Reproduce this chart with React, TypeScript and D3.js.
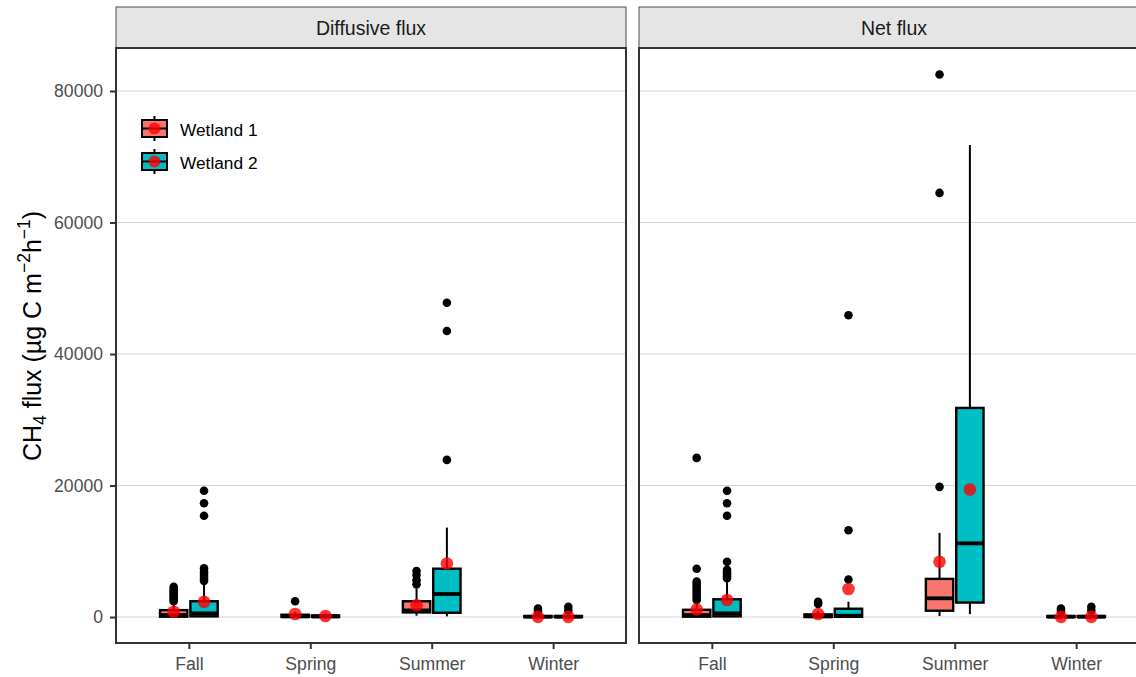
import React, { useEffect, useRef } from "react";
import * as d3 from "d3";

// categories
const facets = ["Diffusive flux", "Net flux"];
const seasons = ["Fall", "Spring", "Summer", "Winter"];
const wetlands = ["Wetland 1", "Wetland 2"];
const yTicks = [0, 20000, 40000, 60000, 80000];

// box stats, [season][wetland] -- Diffusive flux
const diffLow = [[0, 0], [0, 0], [200, 100], [-200, -200]];
const diffQ1 = [[50, 100], [20, 20], [700, 650], [0, 0]];
const diffMedian = [[300, 560], [100, 80], [1000, 3500], [50, 50]];
const diffQ3 = [[1050, 2400], [350, 250], [2400, 7350], [150, 150]];
const diffHigh = [[2150, 5200], [800, 500], [4300, 13600], [400, 400]];
const diffMean = [[800, 2330], [450, 150], [1800, 8150], [30, 30]];
const diffOut = [
  [[2400, 2700, 3000, 3300, 3600, 3900, 4200, 4600], [5500, 5800, 6100, 6400, 6700, 7000, 7400, 15400, 17300, 19200]],
  [[2400], []],
  [[4970, 5600, 6400, 7000], [23900, 43500, 47800]],
  [[900, 1300], [1000, 1550]],
];

// box stats, [season][wetland] -- Net flux
const netLow = [[0, 0], [0, 0], [150, 450], [-200, -200]];
const netQ1 = [[50, 100], [20, 30], [960, 2200], [0, 0]];
const netMedian = [[300, 560], [100, 200], [2850, 11200], [50, 50]];
const netQ3 = [[1100, 2700], [400, 1260], [5800, 31800], [150, 150]];
const netHigh = [[2400, 5600], [900, 2330], [12800, 71800], [400, 400]];
const netMean = [[1170, 2600], [450, 4260], [8400, 19400], [30, 30]];
const netOut = [
  [[2600, 3000, 3400, 3800, 4200, 4600, 5000, 5400, 7350, 24200], [5900, 6200, 6500, 6800, 7200, 8400, 15400, 17300, 19200]],
  [[2000, 2300], [5700, 13200, 45900]],
  [[19800, 64500, 82500], []],
  [[900, 1300], [1000, 1550]],
];

const fills = ["#F8766D", "#00BFC4"];

const stats = [
  { low: diffLow, q1: diffQ1, med: diffMedian, q3: diffQ3, high: diffHigh, mean: diffMean, out: diffOut },
  { low: netLow, q1: netQ1, med: netMedian, q3: netQ3, high: netHigh, mean: netMean, out: netOut },
];

const W = 1136;
const H = 677;
const FONT = "Liberation Sans, Arial, sans-serif";

export default function App() {
  const ref = useRef<SVGSVGElement>(null);

  useEffect(() => {
    const svg = d3.select(ref.current);
    svg.selectAll("*").remove();

    const top = 48;
    const bottom = 643;
    const stripTop = 7;
    const panelW = 510;
    const panelLefts = [116, 639];

    const y = d3.scaleLinear().domain([-3950, 86540]).range([bottom, top]);

    svg.append("rect").attr("width", W).attr("height", H).attr("fill", "#fff");

    facets.forEach((facet, fi) => {
      const x0 = panelLefts[fi];
      const x = d3.scalePoint<string>().domain(seasons).range([x0, x0 + panelW]).padding(0.6);
      const step = x.step();
      const boxW = step * 0.25 * 0.9;
      const g = svg.append("g");

      // strip
      g.append("rect")
        .attr("x", x0).attr("y", stripTop)
        .attr("width", panelW).attr("height", top - stripTop)
        .attr("fill", "#E5E5E5").attr("stroke", "#4d4d4d").attr("stroke-width", 1);
      g.append("text")
        .attr("x", x0 + panelW / 2).attr("y", (stripTop + top) / 2 + 7)
        .attr("text-anchor", "middle")
        .attr("font-family", FONT)
        .attr("font-size", 19.5).attr("fill", "#1A1A1A")
        .text(facet);

      // grid
      g.selectAll("line.grid").data(yTicks).join("line")
        .attr("x1", x0).attr("x2", x0 + panelW)
        .attr("y1", d => y(d)).attr("y2", d => y(d))
        .attr("stroke", "#d4d4d4").attr("stroke-width", 1.1);

      // x axis
      const xa = g.append("g").attr("transform", `translate(0,${bottom})`)
        .call(d3.axisBottom(x).tickSize(6).tickPadding(9));
      xa.select(".domain").remove();
      xa.selectAll("line").attr("stroke", "#333").attr("stroke-width", 2);
      xa.selectAll("text")
        .attr("font-family", FONT)
        .attr("font-size", 17.6).attr("fill", "#4D4D4D");

      // y axis on left panel only
      if (fi === 0) {
        const ya = g.append("g").attr("transform", `translate(${x0},0)`)
          .call(d3.axisLeft(y).tickValues(yTicks).tickFormat(d3.format("d")).tickSize(6).tickPadding(7));
        ya.select(".domain").remove();
        ya.selectAll("line").attr("stroke", "#333").attr("stroke-width", 2);
        ya.selectAll("text")
          .attr("font-family", FONT)
          .attr("font-size", 17.6).attr("fill", "#4D4D4D");
      }

      const s = stats[fi];
      seasons.forEach((season, si) => {
        wetlands.forEach((_, wi) => {
          const cx = (x(season) as number) + (wi === 0 ? -1 : 1) * step * 0.125;
          // whiskers
          g.append("line").attr("x1", cx).attr("x2", cx)
            .attr("y1", y(s.q3[si][wi])).attr("y2", y(s.high[si][wi]))
            .attr("stroke", "#000").attr("stroke-width", 2);
          g.append("line").attr("x1", cx).attr("x2", cx)
            .attr("y1", y(s.q1[si][wi])).attr("y2", y(s.low[si][wi]))
            .attr("stroke", "#000").attr("stroke-width", 2);
          // box
          g.append("rect")
            .attr("x", cx - boxW / 2).attr("width", boxW)
            .attr("y", y(s.q3[si][wi]))
            .attr("height", Math.max(0, y(s.q1[si][wi]) - y(s.q3[si][wi])))
            .attr("fill", fills[wi]).attr("stroke", "#000").attr("stroke-width", 2.4);
          // median
          g.append("line")
            .attr("x1", cx - boxW / 2).attr("x2", cx + boxW / 2)
            .attr("y1", y(s.med[si][wi])).attr("y2", y(s.med[si][wi]))
            .attr("stroke", "#000").attr("stroke-width", 3.8);
          // outliers
          g.selectAll(null).data(s.out[si][wi]).join("circle")
            .attr("cx", cx).attr("cy", d => y(d)).attr("r", 4.3).attr("fill", "#000");
        });
      });
      // means on top
      seasons.forEach((season, si) => {
        wetlands.forEach((_, wi) => {
          const cx = (x(season) as number) + (wi === 0 ? -1 : 1) * step * 0.125;
          g.append("circle").attr("cx", cx).attr("cy", y(s.mean[si][wi]))
            .attr("r", 6.3).attr("fill", "#FF0000").attr("fill-opacity", 0.8);
        });
      });

      // panel border
      g.append("rect")
        .attr("x", x0).attr("y", top).attr("width", panelW).attr("height", bottom - top)
        .attr("fill", "none").attr("stroke", "#333").attr("stroke-width", 2);
    });

    // legend
    const lg = svg.append("g");
    wetlands.forEach((name, i) => {
      const cy = 128.5 + i * 33;
      const cx = 154.5;
      lg.append("line").attr("x1", cx).attr("x2", cx).attr("y1", cy - 12.5).attr("y2", cy + 12.5)
        .attr("stroke", "#000").attr("stroke-width", 2);
      lg.append("rect").attr("x", 142).attr("y", cy - 8.5).attr("width", 25).attr("height", 17)
        .attr("fill", fills[i]).attr("stroke", "#000").attr("stroke-width", 2);
      lg.append("line").attr("x1", 142).attr("x2", 167).attr("y1", cy).attr("y2", cy)
        .attr("stroke", "#000").attr("stroke-width", 2);
      lg.append("circle").attr("cx", cx).attr("cy", cy).attr("r", 6)
        .attr("fill", "#FF0000").attr("fill-opacity", 0.8);
      lg.append("text").attr("x", 180).attr("y", cy + 7)
        .attr("font-family", FONT)
        .attr("font-size", 17.3).attr("fill", "#000")
        .text(name);
    });

    // y title
    const t = svg.append("text")
      .attr("transform", "translate(41,336) rotate(-90)")
      .attr("text-anchor", "middle")
      .attr("font-family", FONT)
      .attr("font-size", 25).attr("fill", "#000");
    t.append("tspan").text("CH");
    t.append("tspan").attr("font-size", 17.5).attr("dy", 5).text("4");
    t.append("tspan").attr("dy", -5).text(" flux (µg C m");
    t.append("tspan").attr("font-size", 17.5).attr("dy", -11).text("−2");
    t.append("tspan").attr("dy", 11).text("h");
    t.append("tspan").attr("font-size", 17.5).attr("dy", -11).text("−1");
    t.append("tspan").attr("dy", 11).text(")");
  }, []);

  return (
    <svg ref={ref} width={W} height={H} style={{ position: "absolute", left: 0, top: 0 }} />
  );
}
